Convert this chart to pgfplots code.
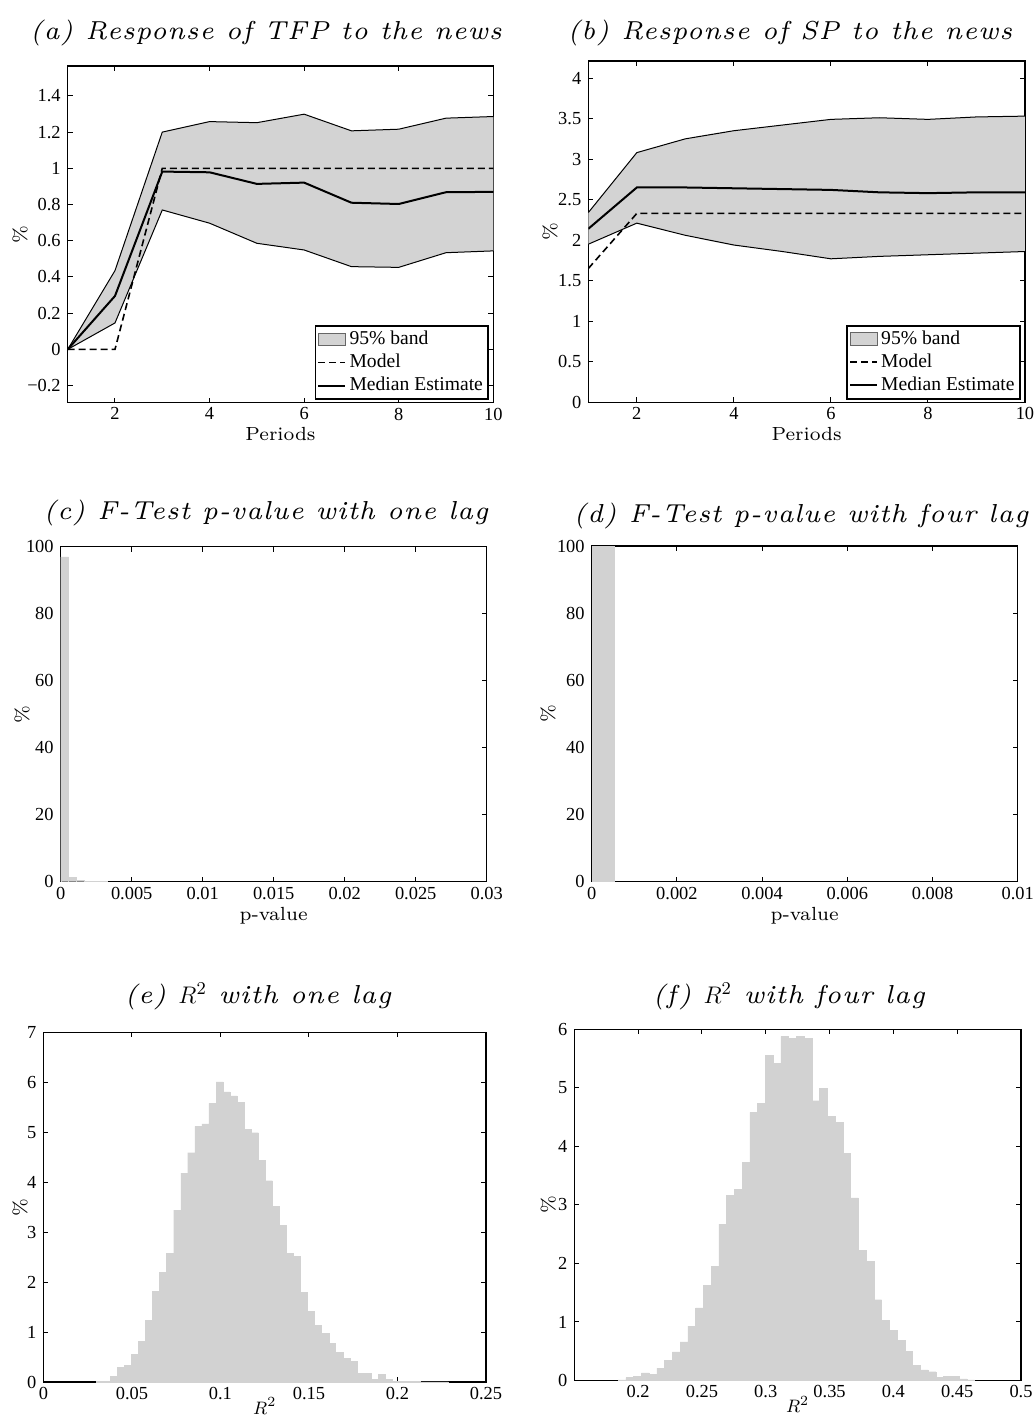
\documentclass[border=0pt]{standalone}
\usepackage{fontspec}
\usepackage{pgfplots}
\pgfplotsset{compat=1.18}
\setmainfont{Latin Modern Roman}
\newfontfamily\timesf{Liberation Serif}
\newfontfamily\titlefont[Extension=.otf, ItalicFont=lmroman7-italic, LetterSpace=4]{lmroman7-regular}
\newfontfamily\labelfont[Extension=.otf]{lmroman7-regular}

\definecolor{bandgray}{RGB}{211,211,211}
\definecolor{histgray}{RGB}{210,210,210}

\pgfplotsset{
  mat/.style={
    scale only axis,
    anchor=south west,
    axis line style={line width=0.7pt},
    tick align=inside,
    major tick length=2.5pt,
    tick style={black, line width=0.5pt},
    tick label style={font=\timesf\fontsize{9.2}{10}\selectfont},
    xticklabel style={yshift=1pt},
    /pgf/number format/assume math mode=true,
    scaled ticks=false,
    xlabel style={font=\labelfont\fontsize{9.5}{11}\selectfont, anchor=north, inner sep=0pt},
    ylabel style={font=\labelfont\fontsize{9.5}{11}\selectfont, anchor=center, inner sep=0pt},
    legend cell align=left,
  },
  leg/.style={
    legend style={at={(1,0)}, anchor=south east, xshift=-2.2pt, yshift=1.4pt,
      draw=black, line width=0.8pt, font=\timesf\fontsize{9.8}{11}\selectfont,
      inner xsep=1pt, inner ysep=1pt, nodes={inner sep=1.6pt}, row sep=0pt},
  },
  lineleg/.style={legend image code/.code={\draw[##1] (0pt,0pt) -- (13.5pt,0pt);}},
  bandleg/.style={legend image code/.code={\draw[fill=bandgray, draw=gray!80!black, line width=0.5pt] (0pt,-3pt) rectangle (13.5pt,3.2pt);}},
  hist/.style={ybar, bar shift=0pt, fill=histgray, draw=histgray, line width=0.2pt},
}

\begin{document}
\begin{tikzpicture}
\path[use as bounding box] (0,0) rectangle (517.5pt,-712.5pt);

% titles
\begin{scope}[every node/.style={anchor=base, font=\titlefont\fontsize{13}{15}\selectfont\itshape}]
\node at (133pt,-19.5pt) {(a) Response of TFP to the news};
\node at (395pt,-19.5pt) {(b) Response of SP to the news};
\node at (133pt,-259.5pt) {(c) F-Test p-value with one lag};
\node at (400.5pt,-261pt) {(d) F-Test p-value with four lag};
\node at (129pt,-501.5pt) {(e) $R^2$ with one lag};
\node at (394.5pt,-501.5pt) {(f) $R^2$ with four lag};
\end{scope}

% (a)
\begin{axis}[mat, leg, at={(33.85pt,-201.35pt)}, width=212.8pt, height=168.35pt,
  xmin=1, xmax=10, ymin=-0.2944, ymax=1.565,
  xtick={2,4,6,8,10}, xticklabels={2,4,6,8,10},
  ytick={-0.2,0,0.2,0.4,0.6,0.8,1,1.2,1.4},
  yticklabels={−0.2,0,0.2,0.4,0.6,0.8,1,1.2,1.4},
  xlabel={Periods}, ylabel={\%},
  xlabel style={at={(axis description cs:0.5,-0.072)}},
  ylabel style={at={(axis description cs:-0.112,0.5)}}]
\addplot[fill=bandgray, draw=none, bandleg] coordinates {(1,0) (2,0.435) (3,1.20) (4,1.258) (5,1.252) (6,1.299) (7,1.207) (8,1.216) (9,1.277) (10,1.286)
  (10,0.544) (9,0.534) (8,0.453) (7,0.457) (6,0.549) (5,0.586) (4,0.697) (3,0.770) (2,0.146) (1,0)};
\addlegendentry{95\% band}
\addplot[black, line width=0.5pt, forget plot] coordinates {(1,0) (2,0.435) (3,1.20) (4,1.258) (5,1.252) (6,1.299) (7,1.207) (8,1.216) (9,1.277) (10,1.286)};
\addplot[black, line width=0.5pt, forget plot] coordinates {(1,0) (2,0.146) (3,0.770) (4,0.697) (5,0.586) (6,0.549) (7,0.457) (8,0.453) (9,0.534) (10,0.544)};
\addplot[black, line width=0.8pt, dash pattern=on 3.5pt off 2pt, lineleg] coordinates {(1,0) (2,0) (3,1) (4,1) (5,1) (6,1) (7,1) (8,1) (9,1) (10,1)};
\addlegendentry{Model}
\addplot[black, line width=1pt, lineleg] coordinates {(1,0) (2,0.295) (3,0.982) (4,0.978) (5,0.914) (6,0.921) (7,0.810) (8,0.803) (9,0.868) (10,0.870)};
\addlegendentry{Median Estimate}
\end{axis}

% (b)
\begin{axis}[mat, leg, at={(294.15pt,-201.15pt)}, width=218.35pt, height=170.65pt,
  xmin=1, xmax=10, ymin=0, ymax=4.21,
  xtick={2,4,6,8,10}, xticklabels={2,4,6,8,10},
  ytick={0,0.5,1,1.5,2,2.5,3,3.5,4},
  yticklabels={0,0.5,1,1.5,2,2.5,3,3.5,4},
  xlabel={Periods}, ylabel={\%},
  xlabel style={at={(axis description cs:0.5,-0.0715)}},
  ylabel style={at={(axis description cs:-0.0877,0.5)}}]
\addplot[fill=bandgray, draw=none, bandleg] coordinates {(1,2.34) (2,3.08) (3,3.25) (4,3.35) (5,3.42) (6,3.49) (7,3.51) (8,3.49) (9,3.52) (10,3.53)
  (10,1.86) (9,1.84) (8,1.82) (7,1.80) (6,1.77) (5,1.86) (4,1.94) (3,2.06) (2,2.21) (1,1.95)};
\addlegendentry{95\% band}
\addplot[black, line width=0.5pt, forget plot] coordinates {(1,2.34) (2,3.08) (3,3.25) (4,3.35) (5,3.42) (6,3.49) (7,3.51) (8,3.49) (9,3.52) (10,3.53)};
\addplot[black, line width=0.5pt, forget plot] coordinates {(1,1.95) (2,2.21) (3,2.06) (4,1.94) (5,1.86) (6,1.77) (7,1.80) (8,1.82) (9,1.84) (10,1.86)};
\addplot[black, line width=0.8pt, dash pattern=on 3.5pt off 2pt, lineleg] coordinates {(1,1.65) (2,2.33) (3,2.33) (4,2.33) (5,2.33) (6,2.33) (7,2.33) (8,2.33) (9,2.33) (10,2.33)};
\addlegendentry{Model}
\addplot[black, line width=1pt, lineleg] coordinates {(1,2.14) (2,2.65) (3,2.65) (4,2.64) (5,2.63) (6,2.62) (7,2.59) (8,2.58) (9,2.59) (10,2.59)};
\addlegendentry{Median Estimate}
\end{axis}

% (c)
\begin{axis}[mat, at={(30.35pt,-440.85pt)}, width=213pt, height=167.5pt,
  xmin=0, xmax=0.03, ymin=0, ymax=100,
  xtick={0,0.005,0.01,0.015,0.02,0.025,0.03},
  xticklabels={0,0.005,0.01,0.015,0.02,0.025,0.03},
  ytick={0,20,40,60,80,100}, yticklabels={0,20,40,60,80,100},
  xlabel={p-value}, ylabel={\%},
  xlabel style={at={(axis description cs:0.5,-0.0755)}},
  ylabel style={at={(axis description cs:-0.0908,0.5)}}]
\addplot[hist, bar width=0.00055] coordinates {(0.000275,97.0) (0.000825,1.3) (0.001375,0.5) (0.001925,0.15) (0.002475,0.1) (0.003025,0.05)};
\end{axis}

% (d)
\begin{axis}[mat, at={(295.85pt,-440.85pt)}, width=213pt, height=167.85pt,
  xmin=0, xmax=0.01, ymin=0, ymax=100,
  xtick={0,0.002,0.004,0.006,0.008,0.01},
  xticklabels={0,0.002,0.004,0.006,0.008,0.01},
  ytick={0,20,40,60,80,100}, yticklabels={0,20,40,60,80,100},
  xlabel={p-value}, ylabel={\%},
  xlabel style={at={(axis description cs:0.5,-0.0755)}},
  ylabel style={at={(axis description cs:-0.1026,0.5)}}]
\addplot[hist, bar width=0.000524] coordinates {(0.000262,100)};
\end{axis}

% (e)
\begin{axis}[mat, at={(21.7pt,-691pt)}, width=221.3pt, height=174.85pt,
  xmin=0, xmax=0.25, ymin=0, ymax=7,
  xtick={0,0.05,0.1,0.15,0.2,0.25}, xticklabels={0,0.05,0.1,0.15,0.2,0.25},
  ytick={0,1,2,3,4,5,6,7}, yticklabels={0,1,2,3,4,5,6,7},
  xlabel={$R^2$}, ylabel={\%},
  xlabel style={at={(axis description cs:0.5,-0.043)}},
  ylabel style={at={(axis description cs:-0.0529,0.5)}}]
\addplot[hist, bar width=0.00398] coordinates {
 (0.0318,0.01) (0.0358,0.02) (0.0398,0.11) (0.0437,0.29) (0.0477,0.33) (0.0517,0.56) (0.0557,0.82) (0.0597,1.23)
 (0.0636,1.82) (0.0676,2.20) (0.0716,2.58) (0.0756,3.44) (0.0796,4.18) (0.0835,4.59) (0.0875,5.12) (0.0915,5.17)
 (0.0955,5.58) (0.0995,6.01) (0.1034,5.81) (0.1074,5.73) (0.1114,5.60) (0.1154,5.06) (0.1194,4.99) (0.1233,4.44)
 (0.1273,4.03) (0.1313,3.52) (0.1353,3.14) (0.1393,2.57) (0.1432,2.52) (0.1472,1.79) (0.1512,1.41) (0.1552,1.14)
 (0.1592,0.98) (0.1631,0.77) (0.1671,0.60) (0.1711,0.48) (0.1751,0.41) (0.1791,0.17) (0.1830,0.17) (0.1870,0.06)
 (0.1910,0.15) (0.1950,0.06) (0.1990,0.02) (0.2029,0.01) (0.2069,0.01) (0.2109,0.01) (0.2149,0.005) (0.2189,0.005)
 (0.2228,0.005) (0.2268,0.005)};
\end{axis}

% (f)
\begin{axis}[mat, at={(287.15pt,-690.25pt)}, width=223.35pt, height=175.6pt,
  xmin=0.15, xmax=0.5, ymin=0, ymax=6,
  xtick={0.2,0.25,0.3,0.35,0.4,0.45,0.5}, xticklabels={0.2,0.25,0.3,0.35,0.4,0.45,0.5},
  ytick={0,1,2,3,4,5,6}, yticklabels={0,1,2,3,4,5,6},
  xlabel={$R^2$}, ylabel={\%},
  xlabel style={at={(axis description cs:0.5,-0.043)}},
  ylabel style={at={(axis description cs:-0.0582,0.5)}}]
\addplot[hist, bar width=0.00607] coordinates {
 (0.1873,0.01) (0.1934,0.05) (0.1995,0.07) (0.2055,0.13) (0.2116,0.10) (0.2177,0.21) (0.2237,0.35) (0.2298,0.49)
 (0.2359,0.66) (0.2420,0.93) (0.2480,1.24) (0.2541,1.62) (0.2602,1.95) (0.2663,2.67) (0.2723,3.16) (0.2784,3.27)
 (0.2845,3.73) (0.2905,4.58) (0.2966,4.74) (0.3027,5.55) (0.3088,5.42) (0.3148,5.88) (0.3209,5.85) (0.3270,5.88)
 (0.3331,5.85) (0.3391,4.78) (0.3452,4.99) (0.3513,4.51) (0.3573,4.41) (0.3634,3.88) (0.3695,3.12) (0.3756,2.22)
 (0.3816,2.03) (0.3877,1.38) (0.3938,1.03) (0.3999,0.86) (0.4059,0.69) (0.4120,0.50) (0.4181,0.26) (0.4241,0.18)
 (0.4302,0.15) (0.4363,0.05) (0.4424,0.07) (0.4484,0.07) (0.4545,0.03) (0.4606,0.01)};
\end{axis}
\end{tikzpicture}
\end{document}
